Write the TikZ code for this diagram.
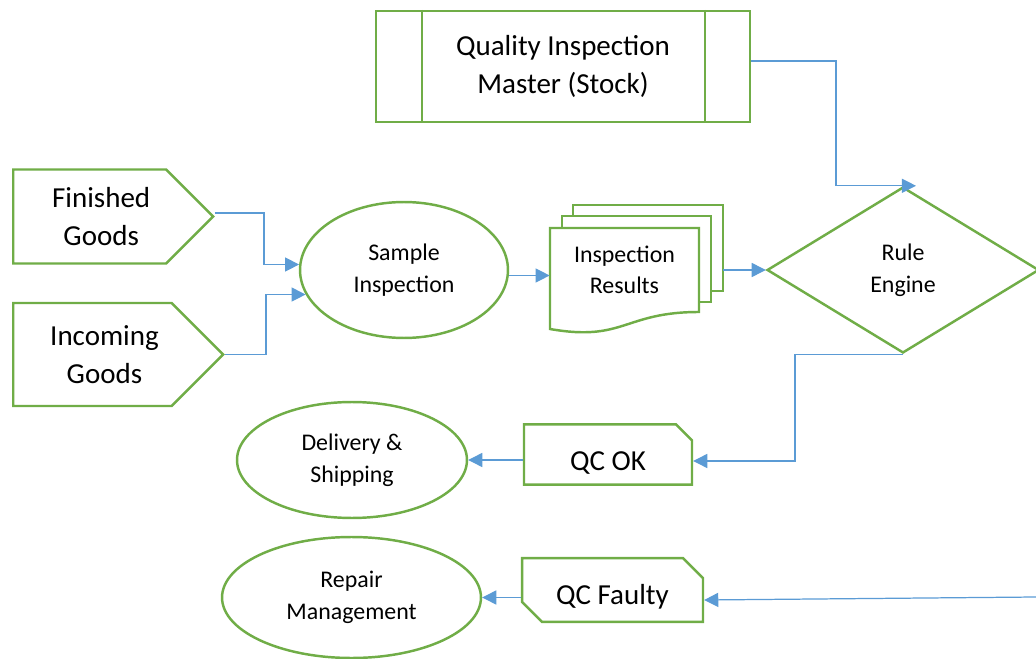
\documentclass[tikz,border=0pt]{standalone}
\usepackage{fontspec}
\setmainfont{Carlito}
\usepackage{tikz}
\usetikzlibrary{shapes.geometric}
\usetikzlibrary{shapes.symbols}
\usetikzlibrary{shapes.misc}
\usetikzlibrary{arrows.meta}
\definecolor{qgreen}{HTML}{70AD47}
\definecolor{qblue}{HTML}{5B9BD5}

\begin{document}
\begin{tikzpicture}[x=0.02cm, y=-0.02cm,
    shp/.style={draw=qgreen, line width=1.4pt, fill=white, inner sep=1pt},
    big/.style={font=\fontsize{16.5}{21.5}\selectfont, align=center},
    small/.style={font=\fontsize{13.6}{18}\selectfont, align=center},
    conn/.style={->, draw=qblue, line width=0.7pt},
  ]
\tikzset{>={Triangle[length=8pt, width=8pt]}}
\useasboundingbox (0,0) rectangle (1036,659);

  % master data
  \node[shp, big, minimum width=7.48cm, minimum height=2.22cm] (qim) at (563,66.5) {Quality Inspection\\Master (Stock)};
  \draw[shp] ([xshift=0.94cm]qim.north west) -- ([xshift=0.94cm]qim.south west);
  \draw[shp] ([xshift=-0.92cm]qim.north east) -- ([xshift=-0.92cm]qim.south east);

  % inputs
  \node[shp, big, signal, signal to=east, signal pointer angle=90, minimum width=4cm, minimum height=1.88cm, anchor=west] (fg) at (12,216.5) {\hspace*{0.46cm}Finished\\\hspace*{0.46cm}Goods};
  \node[shp, big, signal, signal to=east, signal pointer angle=90, minimum width=4.2cm, minimum height=2.06cm, anchor=west] (inc) at (12,354.5) {\hspace*{0.48cm}Incoming\\\hspace*{0.48cm}Goods};

  \node[shp, small, ellipse, minimum width=4.16cm, minimum height=2.72cm] (si) at (404,270) {Sample\\Inspection};

  % stacked documents
  \draw[shp] (573,205) rectangle (723,291);
  \draw[shp] (562,216) rectangle (711,302);
  \draw[shp] (550,228) -- (699,228) -- (699,312) .. controls (624,312) and (624,342) .. (550,329) -- cycle;
  \node[small, minimum width=2.98cm] (ir) at (624.5,270) {Inspection\\Results};

  \node[shp, small, diamond, minimum width=5.44cm, minimum height=3.32cm, inner sep=0pt] (re) at (903,270) {Rule\\Engine};

  % outcomes
  \node[shp, big, chamfered rectangle, chamfered rectangle corners=north east, chamfered rectangle xsep=0.14cm, chamfered rectangle ysep=0.18cm, minimum width=3.36cm, minimum height=1.1cm, text height=20pt, text depth=2pt] (ok) at (608,454.5) {QC OK};
  \node[shp, big, chamfered rectangle, chamfered rectangle corners={north east, south west}, chamfered rectangle xsep=0.2cm, chamfered rectangle ysep=0.2cm, minimum width=3.62cm, minimum height=1.24cm, text height=19.6pt, text depth=3.3pt] (fa) at (612.5,590) {QC Faulty};

  \node[shp, small, ellipse, minimum width=4.6cm, minimum height=2.32cm] (del) at (352,460) {Delivery \&\\Shipping};
  \node[shp, small, ellipse, minimum width=5.18cm, minimum height=2.42cm] (rep) at (351.5,597.5) {Repair\\Management};

  \coordinate (fin) at (1036,597);

  \draw[conn] ([yshift=0.11cm]qim.east) -| ([xshift=-1.34cm]re.north) -- ([xshift=0.26cm]re.north);
  \draw[conn] ([yshift=0.07cm]fg.east) -- ++(49,0) |- (si.177);
  \draw[conn] (inc.east) -- ++(41,0) |- (si.194);
  \draw[conn] (si.357) -- (si.357 -| ir.west);
  \draw[conn] ([xshift=0.48cm]ir.east) -- (re.west);
  \draw[conn] (re.south) -- ++(-108,0) |- ([yshift=-0.13cm]ok.east);
  \draw[conn] (ok.west |- del.east) -- (del.east);
  \draw[conn] (fin) -- ([yshift=-0.2cm]fa.east);
  \draw[conn] (fa.west |- rep.east) -- (rep.east);

\end{tikzpicture}
\end{document}
